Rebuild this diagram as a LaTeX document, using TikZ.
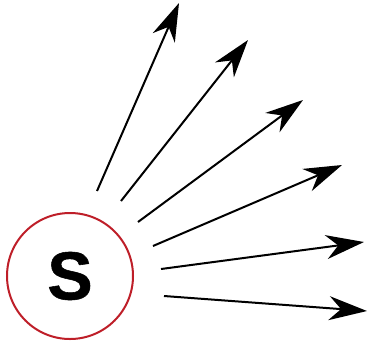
\documentclass[tikz,border=0pt]{standalone}
\usepackage{fontspec}
\setmainfont{Liberation Sans}
\newfontfamily\srcfont[FakeBold=0.8]{Liberation Sans}
\usepackage{tikz}
\usetikzlibrary{arrows.meta}

\definecolor{srcred}{RGB}{190,30,40}

\begin{document}
\begin{tikzpicture}[x=1pt,y=-1pt,
  src/.style={draw=srcred,line width=2pt,circle,minimum size=126pt,inner sep=0pt,
    font=\fontsize{68}{68}\srcfont\bfseries},
  ray/.style={line width=2pt,-{Stealth[length=38pt,width=24pt,inset=12pt]}}]
  \useasboundingbox (0,0) rectangle (369,341);
  % source
  \node[src] (s) at (70,276) {S};
  % ray start and end points
  \coordinate (a1) at (97,191);  \coordinate (b1) at (179,3);
  \coordinate (a2) at (121,201); \coordinate (b2) at (248,40);
  \coordinate (a3) at (138,222); \coordinate (b3) at (303,100);
  \coordinate (a4) at (153,246); \coordinate (b4) at (342,165);
  \coordinate (a5) at (161,269); \coordinate (b5) at (364,242);
  \coordinate (a6) at (164,296); \coordinate (b6) at (367,311);
  % rays
  \foreach \i in {1,...,6}
    \draw[ray] (a\i) -- (b\i);
\end{tikzpicture}
\end{document}
